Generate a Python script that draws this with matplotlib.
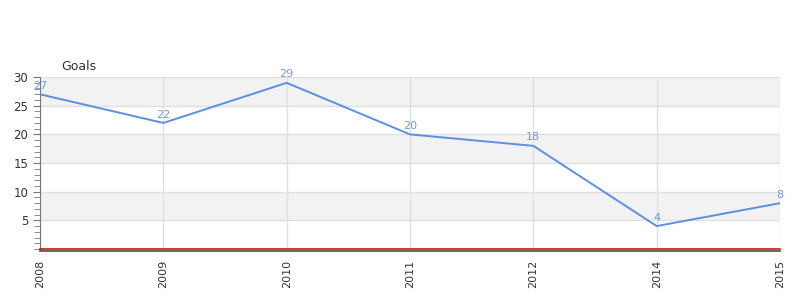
import numpy as np
import matplotlib.pyplot as plt
from matplotlib.ticker import MultipleLocator

# data
years = ['2008', '2009', '2010', '2011', '2012', '2014', '2015']
goals = [27, 22, 29, 20, 18, 4, 8]

fig = plt.figure(figsize=(8, 3), dpi=100)
ax = fig.add_axes([0.05, 0.17, 0.925, 0.573])

# spine position first (it resets tick settings)
for s in ['top', 'right']:
    ax.spines[s].set_visible(False)
ax.spines['bottom'].set_position(('outward', 1.6))
ax.spines['left'].set_color('#777777')
ax.spines['bottom'].set_color('#666666')
ax.spines['bottom'].set_linewidth(1.4)

x = np.arange(len(years))
ax.set_xlim(0, len(years) - 1)
ax.set_ylim(0, 30)

# alternating bands
for lo in range(0, 30, 5):
    if (lo // 5) % 2 == 1:
        ax.axhspan(lo, lo + 5, color='#f2f2f2', zorder=0, lw=0)

ax.yaxis.set_major_locator(MultipleLocator(5))
ax.yaxis.set_minor_locator(MultipleLocator(1))
ax.grid(True, which='major', color='#e0e0e0', lw=1, zorder=1)
ax.set_axisbelow(True)

ax.axhline(0, color='#cc0000', lw=1.1, zorder=3, clip_on=False)
ax.plot(x, goals, color='#5b8fe8', lw=1.4, zorder=4)
for xi, g in zip(x, goals):
    ax.text(xi, g + 0.6, str(g), color='#6e9be6', fontsize=8, ha='center', va='bottom', zorder=5)

ax.set_xticks(x)
ax.set_xticklabels(years, rotation=90, fontsize=8, color='#333333')
ax.set_yticks([5, 10, 15, 20, 25, 30])
ax.tick_params(axis='y', labelsize=8.5, colors='#333333', length=5, color='#777777')
ax.tick_params(axis='y', which='minor', length=4, color='#777777')
ax.tick_params(axis='x', length=0, pad=6)

fig.text(0.077, 0.765, 'Goals', fontsize=9, color='#333333')

fig.savefig('out.png')
